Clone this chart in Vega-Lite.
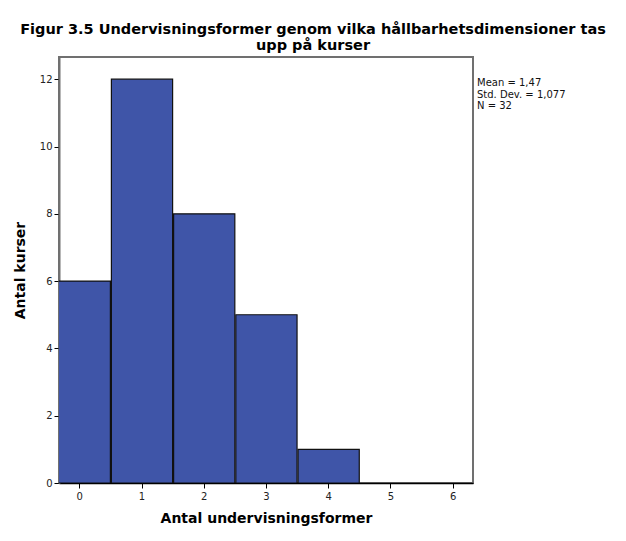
{
  "$schema": "https://vega.github.io/schema/vega-lite/v6.json",
  "description": "Histogram: antal undervisningsformer per kurs",
  "autosize": "none",
  "padding": {"left": 59, "top": 57, "right": 153, "bottom": 58},
  "width": 414,
  "height": 426,
  "title": {
    "text": ["Figur 3.5 Undervisningsformer genom vilka hållbarhetsdimensioner tas", "upp på kurser"],
    "anchor": "middle",
    "dx": 47,
    "offset": 4,
    "font": "DejaVu Sans",
    "fontSize": 14.5,
    "fontWeight": "bold",
    "lineHeight": 16,
    "color": "black"
  },
  "layer": [
    {
      "data": {
        "values": [
          {"antal": 0, "kurser": 6},
          {"antal": 1, "kurser": 12},
          {"antal": 2, "kurser": 8},
          {"antal": 3, "kurser": 5},
          {"antal": 4, "kurser": 1}
        ]
      },
      "mark": {"type": "bar", "color": "#3F55A8", "stroke": "#111111", "strokeWidth": 1.2, "clip": true},
      "encoding": {
        "x": {
          "field": "antal",
          "type": "quantitative",
          "bin": {"step": 1, "anchor": -0.5, "extent": [-0.5, 6.5], "nice": false},
          "scale": {"domain": [-0.326, 6.328], "nice": false, "zero": false},
          "axis": {
            "title": "Antal undervisningsformer",
            "values": [0, 1, 2, 3, 4, 5, 6],
            "format": "d",
            "titleFont": "DejaVu Sans",
            "titleFontSize": 14,
            "titleFontWeight": "bold",
            "titleColor": "black",
            "titlePadding": 10,
            "labelFont": "DejaVu Sans",
            "labelFontSize": 10,
            "labelColor": "#222222",
            "labelPadding": 3,
            "tickSize": 5,
            "tickColor": "black",
            "domainColor": "black",
            "domainWidth": 1.5,
            "grid": false
          }
        },
        "y": {
          "aggregate": "sum",
          "field": "kurser",
          "type": "quantitative",
          "scale": {"domain": [0, 12.66], "nice": false},
          "axis": {
            "title": "Antal kurser",
            "values": [0, 2, 4, 6, 8, 10, 12],
            "titleFont": "DejaVu Sans",
            "titleFontSize": 14,
            "titleFontWeight": "bold",
            "titleColor": "black",
            "titlePadding": 12,
            "labelFont": "DejaVu Sans",
            "labelFontSize": 10,
            "labelColor": "#222222",
            "labelPadding": 2,
            "tickSize": 5,
            "tickColor": "black",
            "domainColor": "#707070",
            "domainWidth": 2,
            "grid": false
          }
        }
      }
    },
    {
      "data": {"values": [{"mean": "1,47", "sd": "1,077", "n": 32}]},
      "mark": {
        "type": "text",
        "text": ["Mean = 1,47", "Std. Dev. = 1,077", "N = 32"],
        "align": "left",
        "baseline": "top",
        "font": "DejaVu Sans",
        "fontSize": 10,
        "fontWeight": "normal",
        "lineHeight": 11.5,
        "fill": "#111111",
        "dx": 4,
        "dy": 21
      },
      "encoding": {
        "x": {"datum": 6.328, "type": "quantitative"},
        "y": {"datum": 12.66, "type": "quantitative"}
      }
    }
  ],
  "config": {
    "view": {"stroke": "#707070", "strokeWidth": 2},
    "background": "white"
  }
}
